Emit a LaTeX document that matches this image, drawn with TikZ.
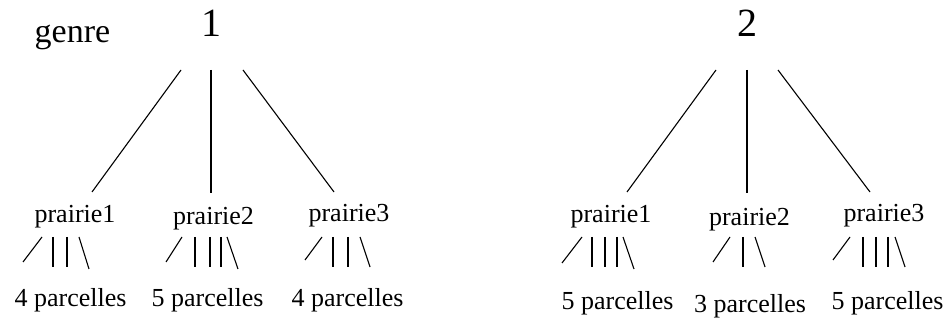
\documentclass[tikz,border=0pt]{standalone}
\usepackage{fontspec}
\setmainfont{Liberation Serif}
\begin{document}
\begin{tikzpicture}[x=1pt,y=-1pt,
  lbl/.style={anchor=base,inner sep=0pt,font=\fontsize{26}{30}\selectfont},
  root/.style={anchor=base,inner sep=0pt,font=\fontsize{40}{44}\selectfont},
  head/.style={anchor=base,inner sep=0pt,font=\fontsize{34}{38}\selectfont},
  branch/.style={line width=1.1pt},
  twig/.style={line width=1.1pt}]
\useasboundingbox (0,0) rectangle (948,320);

% headings and roots
\node[head] (genre) at (72.5,43) {genre};
\node[root] (g1) at (211.5,37) {1};
\node[root] (g2) at (747.5,37) {2};

% meadows of genre 1
\node[lbl] (a1) at (75,223) {prairie1};
\node[lbl] (a2) at (213.5,225) {prairie2};
\node[lbl] (a3) at (349,222) {prairie3};
\node[lbl] (pa1) at (70.5,307) {4 parcelles};
\node[lbl] (pa2) at (207.5,307) {5 parcelles};
\node[lbl] (pa3) at (347.5,307) {4 parcelles};

% meadows of genre 2
\node[lbl] (b1) at (611,223) {prairie1};
\node[lbl] (b2) at (749.5,226) {prairie2};
\node[lbl] (b3) at (884,222) {prairie3};
\node[lbl] (pb1) at (617.5,310) {5 parcelles};
\node[lbl] (pb2) at (750,313) {3 parcelles};
\node[lbl] (pb3) at (887.5,310) {5 parcelles};

% branch end points, genre 1
\coordinate (g1l) at (181,70);
\coordinate (g1m) at (211,70);
\coordinate (g1r) at (243,70);
\coordinate (a1t) at (92,192);
\coordinate (a2t) at (211,193);
\coordinate (a3t) at (334,192);
% branch end points, genre 2
\coordinate (g2l) at (716,70);
\coordinate (g2m) at (747,70);
\coordinate (g2r) at (778,70);
\coordinate (b1t) at (627,192);
\coordinate (b2t) at (747,193);
\coordinate (b3t) at (870,192);

\draw[branch] (g1l) -- (a1t);
\draw[branch] (g1m) -- (a2t);
\draw[branch] (g1r) -- (a3t);
\draw[branch] (g2l) -- (b1t);
\draw[branch] (g2m) -- (b2t);
\draw[branch] (g2r) -- (b3t);

% plot strokes under each meadow
% genre 1, prairie1: 4
\draw[twig] (23,262) -- (42,237);
\draw[twig] (53,237) -- (53,267);
\draw[twig] (67,237) -- (67,267);
\draw[twig] (79,237) -- (89,269);
% genre 1, prairie2: 5
\draw[twig] (166,262) -- (182,237);
\draw[twig] (195,237) -- (195,267);
\draw[twig] (210,237) -- (210,267);
\draw[twig] (221,237) -- (221,267);
\draw[twig] (227,237) -- (238,269);
% genre 1, prairie3: 4
\draw[twig] (305,260) -- (322,237);
\draw[twig] (333,237) -- (333,267);
\draw[twig] (348,237) -- (348,267);
\draw[twig] (360,237) -- (370,267);
% genre 2, prairie1: 5
\draw[twig] (562,263) -- (582,237);
\draw[twig] (592,237) -- (592,267);
\draw[twig] (605,237) -- (605,267);
\draw[twig] (617,237) -- (617,267);
\draw[twig] (623,237) -- (634,269);
% genre 2, prairie2: 3
\draw[twig] (713,262) -- (730,237);
\draw[twig] (743,237) -- (743,267);
\draw[twig] (755,237) -- (765,267);
% genre 2, prairie3: 5
\draw[twig] (833,260) -- (850,237);
\draw[twig] (863,237) -- (863,267);
\draw[twig] (876,237) -- (876,267);
\draw[twig] (888,237) -- (888,267);
\draw[twig] (895,237) -- (905,267);
\end{tikzpicture}
\end{document}
